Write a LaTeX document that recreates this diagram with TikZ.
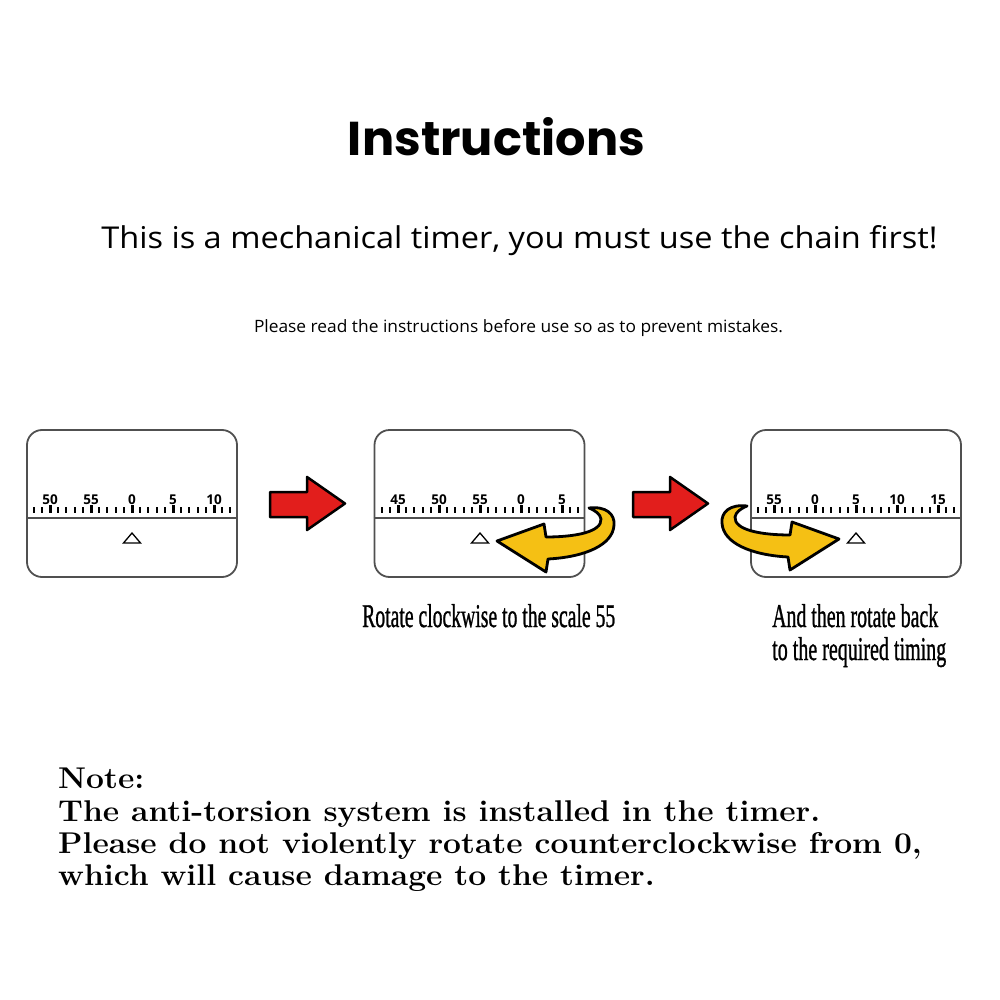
\documentclass[tikz,border=0pt]{standalone}
\usepackage{fontspec}
\usepackage{graphicx}
\newfontfamily\titlefont{Poppins}
\newfontfamily\subfont{Open Sans}
\newfontfamily\tickfont{Open Sans}
\newfontfamily\capfont[FakeBold=1.2]{Liberation Serif}
\definecolor{arrowred}{RGB}{226,30,28}
\definecolor{arrowyellow}{RGB}{245,192,20}
\definecolor{dialgray}{RGB}{80,80,80}
\tikzset{
  dial/.style={draw=dialgray, line width=1.8pt, rounded corners=15pt, minimum width=210pt, minimum height=147pt, inner sep=0pt},
  divider/.style={draw=dialgray, line width=1.8pt},
  minortick/.style={line width=2pt},
  majortick/.style={line width=3pt},
  ticklabel/.style={font=\tickfont\bfseries\fontsize{13.5}{13.5}\selectfont, anchor=base, inner sep=0pt},
  pointer/.style={draw=black, line width=1.3pt, line join=miter},
  redarrow/.style={fill=arrowred, draw=black, line width=2.5pt, line join=round},
  yellowarrow/.style={fill=arrowyellow, draw=black, line width=2.8pt, line join=round},
  txt/.style={inner sep=0pt, anchor=base},
  notetxt/.style={inner sep=0pt, anchor=base west, font=\bfseries\fontsize{30}{32.5}\selectfont},
}
\newcommand\notewide[1]{\scalebox{1.06}[1]{#1}}
\begin{document}
\begin{tikzpicture}[x=1pt,y=-1pt]
\fill[white] (0,0) rectangle (1000,1000);
\useasboundingbox (0,0) rectangle (1000,1000);

% headings
\node[txt] (title) at (496.5,156) {\resizebox{297pt}{38pt}{\titlefont\bfseries Instructions}};
\node[txt] (subtitle) at (519.5,248) {\resizebox{836pt}{23pt}{\subfont This is a mechanical timer, you must use the chain first!}};
\node[txt] (hint) at (518.5,332) {\resizebox{529pt}{13pt}{\subfont Please read the instructions before use so as to prevent mistakes.}};

% dials
\node[dial] (b1) at (132,503.5) {};
\node[dial] (b2) at (479.5,503.5) {};
\node[dial] (b3) at (856,503.5) {};
\foreach \b in {b1,b2,b3}{
  \draw[divider] (\b.west |- 0,518) -- (\b.east |- 0,518);
}

% scales
\foreach \z/\kmin/\kmax in {132/-12/12, 521/-17/7, 815/-7/17}{
  \foreach \k in {\kmin,...,\kmax}{
    \pgfmathtruncatemacro\m{mod(abs(\k),5)}
    \ifnum\m=0
      \draw[majortick] ({\z+8.2*\k},505) -- ++(0,8);
    \else
      \draw[minortick] ({\z+8.2*\k},507) -- ++(0,5.5);
    \fi
  }
}
\foreach \lab/\k [count=\i] in {50/-10,55/-5,0/0,5/5,10/10}
  \node[ticklabel] (b1l\i) at ({132+8.2*\k},504) {\lab};
\foreach \lab/\k [count=\i] in {45/-15,50/-10,55/-5,0/0,5/5}
  \node[ticklabel] (b2l\i) at ({521+8.2*\k},504) {\lab};
\foreach \lab/\k [count=\i] in {55/-5,0/0,5/5,10/10,15/15}
  \node[ticklabel] (b3l\i) at ({815+8.2*\k},504) {\lab};

% pointers
\foreach \x in {132,480,856}{
  \draw[pointer] (\x-8.5,543) -- (\x,533) -- (\x+8.5,543) -- cycle;
}

% red arrows
\draw[redarrow] (270,492) -- (307,492) -- (307,477) -- (345,503.5) -- (307,530) -- (307,517) -- (270,517) -- cycle;
\draw[redarrow] (633,492) -- (670,492) -- (670,477) -- (708,503.5) -- (670,530) -- (670,517) -- (633,517) -- cycle;

% yellow curved arrows
\draw[yellowarrow] (497,541) -- (544,524) -- (546,537)
  .. controls (575,537) and (602,532) .. (601,519)
  .. controls (600,514) and (596,511) .. (589,508)
  .. controls (606,506) and (615,514) .. (614,525)
  .. controls (613,545) and (585,557) .. (548,559)
  -- (546,572) -- cycle;
\draw[yellowarrow] (839,539) -- (792,522) -- (790,535)
  .. controls (761,535) and (734,530) .. (735,517)
  .. controls (736,512) and (740,509) .. (747,506)
  .. controls (730,504) and (721,512) .. (722,523)
  .. controls (723,543) and (751,555) .. (788,557)
  -- (790,570) -- cycle;

% captions
\node[txt, anchor=base west] (cap1) at (362,627) {\resizebox{253pt}{23pt}{\capfont Rotate clockwise to the scale 55}};
\node[txt, anchor=base west] (cap2a) at (772,627) {\resizebox{166pt}{23pt}{\capfont And then rotate back}};
\node[txt, anchor=base west] (cap2b) at (772,660) {\resizebox{174pt}{23pt}{\capfont to the required timing}};

% note
\node[notetxt] (n1) at (58,788) {\notewide{Note:}};
\node[notetxt] (n2) at (58,821) {\notewide{The anti-torsion system is installed in the timer.}};
\node[notetxt] (n3) at (58,853) {\notewide{Please do not violently rotate counterclockwise from 0,}};
\node[notetxt] (n4) at (58,885) {\notewide{which will cause damage to the timer.}};
\end{tikzpicture}
\end{document}
